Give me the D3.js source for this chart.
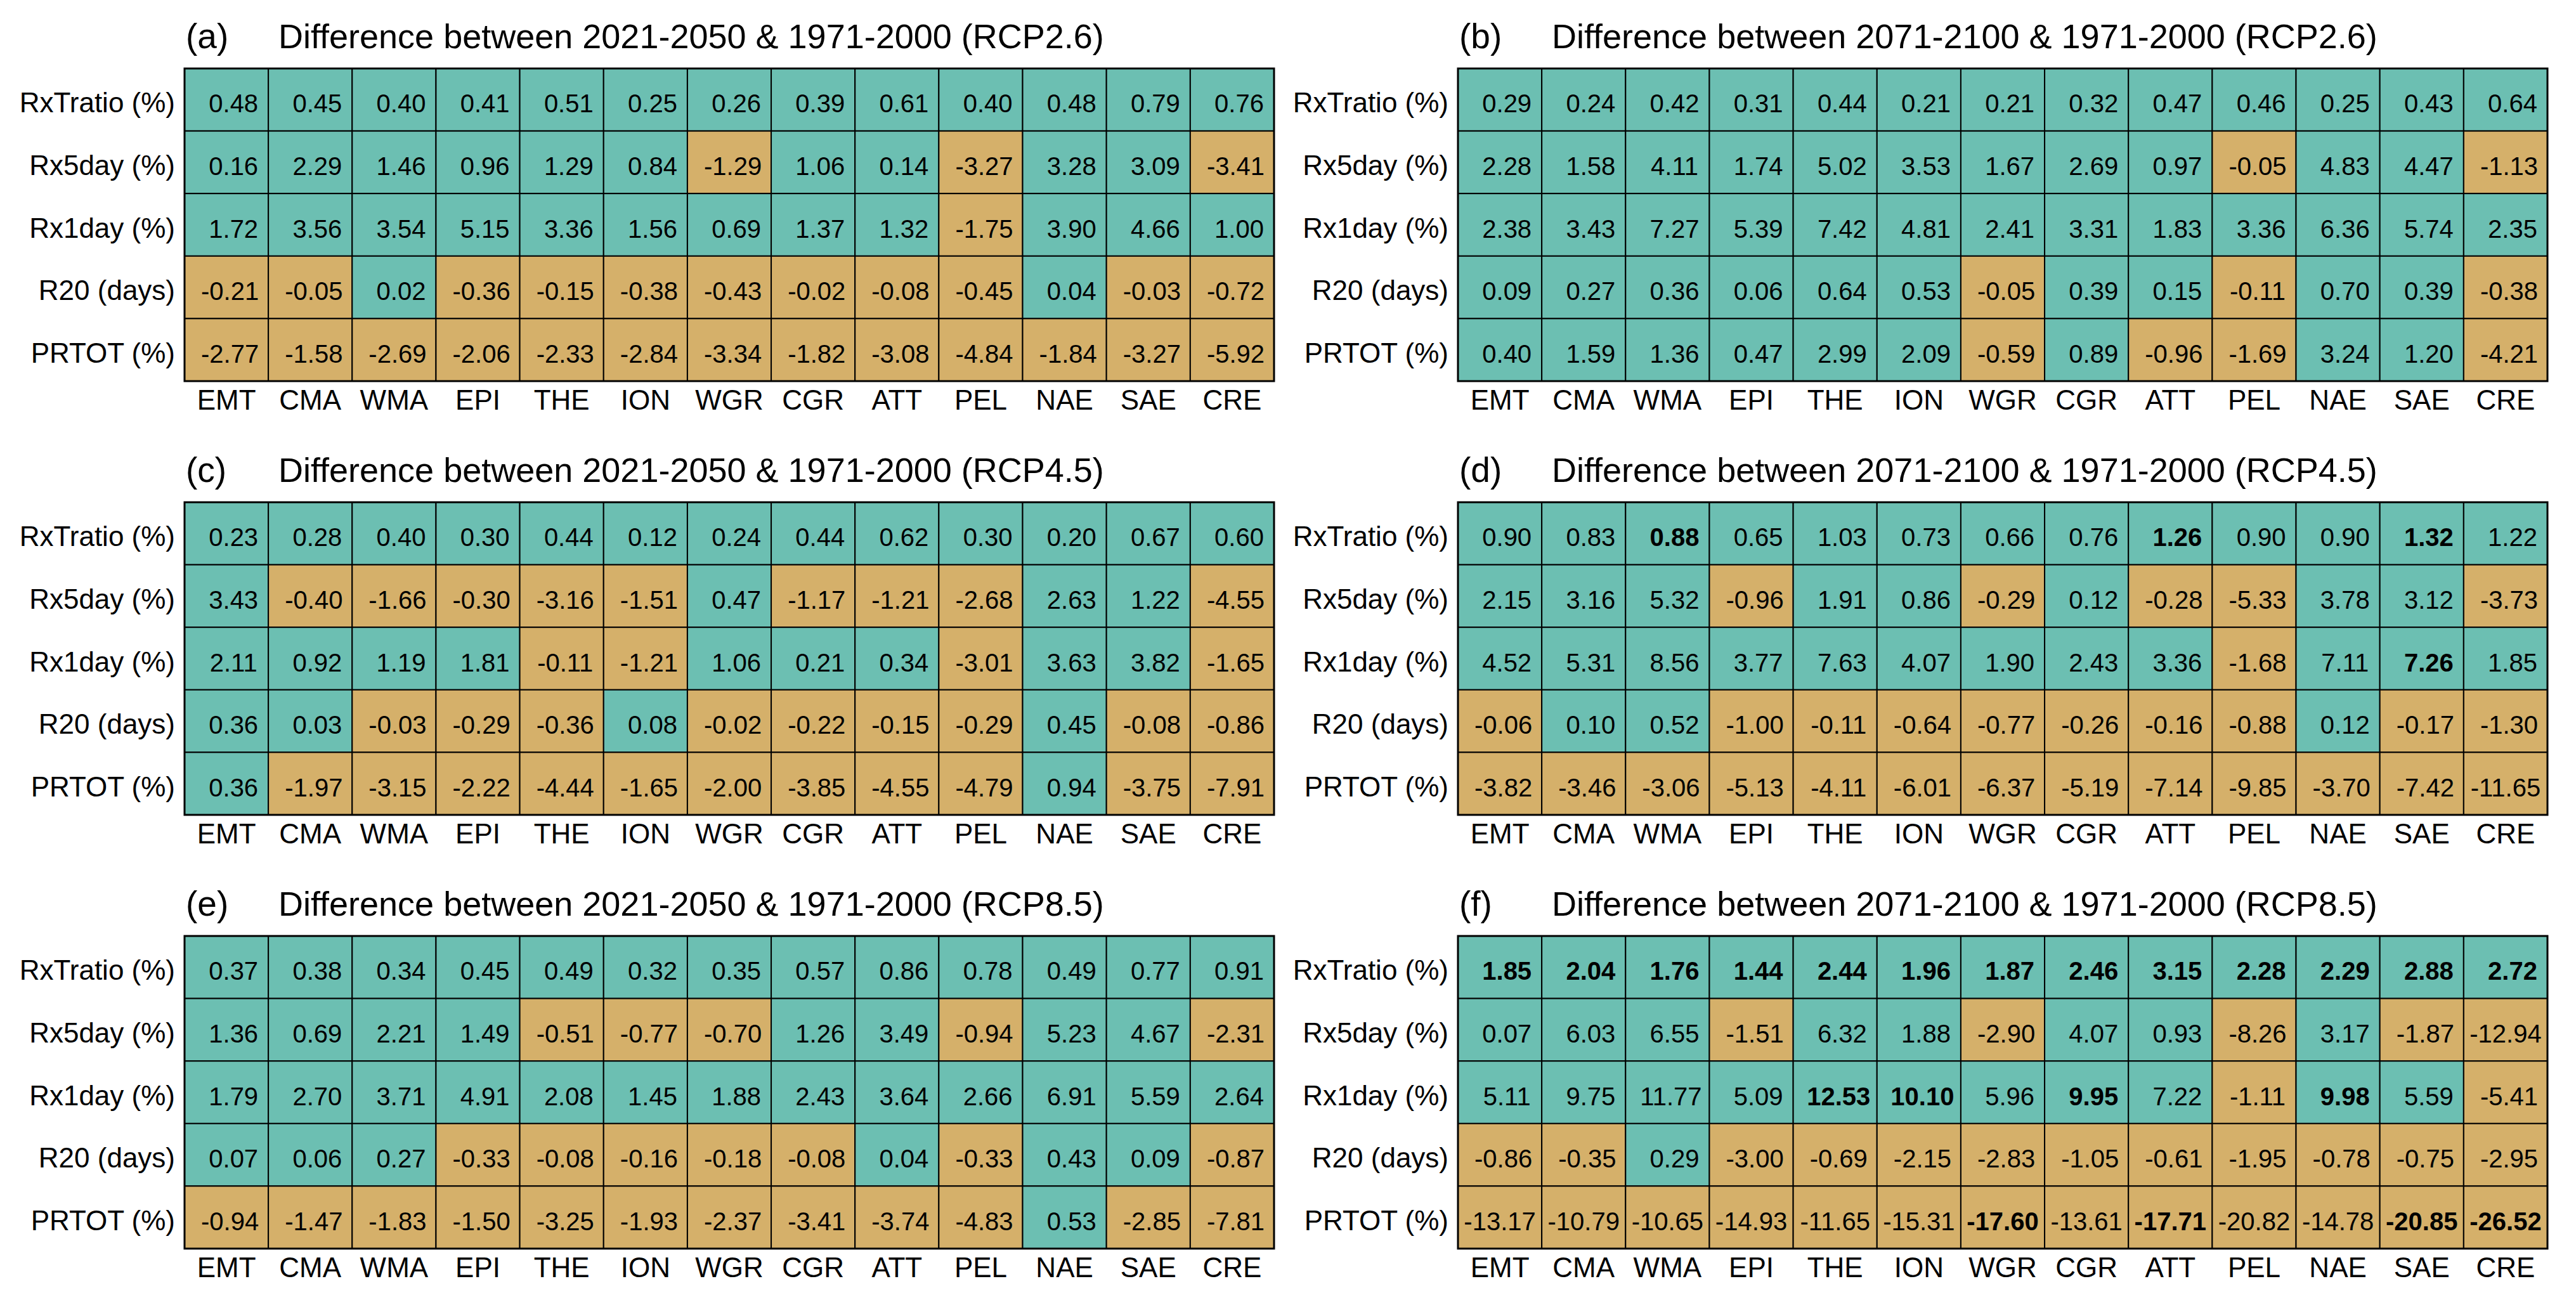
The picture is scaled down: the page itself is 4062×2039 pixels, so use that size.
<!DOCTYPE html>
<html>
<head>
<meta charset="utf-8">
<script src="https://cdn.jsdelivr.net/npm/d3@7"></script>
<style>
  html, body { margin: 0; padding: 0; background: #ffffff; }
  svg { display: block; font-family: "Liberation Sans", Arial, Helvetica, sans-serif; }
</style>
</head>
<body>
<div id="chart"></div>
<script>
// Regiony (kolumny) i wskaźniki (wiersze)
const regions = ["EMT", "CMA", "WMA", "EPI", "THE", "ION", "WGR", "CGR", "ATT", "PEL", "NAE", "SAE", "CRE"];
const indices = ["RxTratio (%)", "Rx5day (%)", "Rx1day (%)", "R20 (days)", "PRTOT (%)"];

const panelLetters = ["(a)", "(b)", "(c)", "(d)", "(e)", "(f)"];
const panelTitles = [
  "Difference between 2021-2050 & 1971-2000 (RCP2.6)",
  "Difference between 2071-2100 & 1971-2000 (RCP2.6)",
  "Difference between 2021-2050 & 1971-2000 (RCP4.5)",
  "Difference between 2071-2100 & 1971-2000 (RCP4.5)",
  "Difference between 2021-2050 & 1971-2000 (RCP8.5)",
  "Difference between 2071-2100 & 1971-2000 (RCP8.5)"
];

// Wartości: wiersze = wskaźniki, kolumny = regiony
const valuesA = [
  [0.48, 0.45, 0.40, 0.41, 0.51, 0.25, 0.26, 0.39, 0.61, 0.40, 0.48, 0.79, 0.76],
  [0.16, 2.29, 1.46, 0.96, 1.29, 0.84, -1.29, 1.06, 0.14, -3.27, 3.28, 3.09, -3.41],
  [1.72, 3.56, 3.54, 5.15, 3.36, 1.56, 0.69, 1.37, 1.32, -1.75, 3.90, 4.66, 1.00],
  [-0.21, -0.05, 0.02, -0.36, -0.15, -0.38, -0.43, -0.02, -0.08, -0.45, 0.04, -0.03, -0.72],
  [-2.77, -1.58, -2.69, -2.06, -2.33, -2.84, -3.34, -1.82, -3.08, -4.84, -1.84, -3.27, -5.92]
];
const valuesB = [
  [0.29, 0.24, 0.42, 0.31, 0.44, 0.21, 0.21, 0.32, 0.47, 0.46, 0.25, 0.43, 0.64],
  [2.28, 1.58, 4.11, 1.74, 5.02, 3.53, 1.67, 2.69, 0.97, -0.05, 4.83, 4.47, -1.13],
  [2.38, 3.43, 7.27, 5.39, 7.42, 4.81, 2.41, 3.31, 1.83, 3.36, 6.36, 5.74, 2.35],
  [0.09, 0.27, 0.36, 0.06, 0.64, 0.53, -0.05, 0.39, 0.15, -0.11, 0.70, 0.39, -0.38],
  [0.40, 1.59, 1.36, 0.47, 2.99, 2.09, -0.59, 0.89, -0.96, -1.69, 3.24, 1.20, -4.21]
];
const valuesC = [
  [0.23, 0.28, 0.40, 0.30, 0.44, 0.12, 0.24, 0.44, 0.62, 0.30, 0.20, 0.67, 0.60],
  [3.43, -0.40, -1.66, -0.30, -3.16, -1.51, 0.47, -1.17, -1.21, -2.68, 2.63, 1.22, -4.55],
  [2.11, 0.92, 1.19, 1.81, -0.11, -1.21, 1.06, 0.21, 0.34, -3.01, 3.63, 3.82, -1.65],
  [0.36, 0.03, -0.03, -0.29, -0.36, 0.08, -0.02, -0.22, -0.15, -0.29, 0.45, -0.08, -0.86],
  [0.36, -1.97, -3.15, -2.22, -4.44, -1.65, -2.00, -3.85, -4.55, -4.79, 0.94, -3.75, -7.91]
];
const valuesD = [
  [0.90, 0.83, 0.88, 0.65, 1.03, 0.73, 0.66, 0.76, 1.26, 0.90, 0.90, 1.32, 1.22],
  [2.15, 3.16, 5.32, -0.96, 1.91, 0.86, -0.29, 0.12, -0.28, -5.33, 3.78, 3.12, -3.73],
  [4.52, 5.31, 8.56, 3.77, 7.63, 4.07, 1.90, 2.43, 3.36, -1.68, 7.11, 7.26, 1.85],
  [-0.06, 0.10, 0.52, -1.00, -0.11, -0.64, -0.77, -0.26, -0.16, -0.88, 0.12, -0.17, -1.30],
  [-3.82, -3.46, -3.06, -5.13, -4.11, -6.01, -6.37, -5.19, -7.14, -9.85, -3.70, -7.42, -11.65]
];
const valuesE = [
  [0.37, 0.38, 0.34, 0.45, 0.49, 0.32, 0.35, 0.57, 0.86, 0.78, 0.49, 0.77, 0.91],
  [1.36, 0.69, 2.21, 1.49, -0.51, -0.77, -0.70, 1.26, 3.49, -0.94, 5.23, 4.67, -2.31],
  [1.79, 2.70, 3.71, 4.91, 2.08, 1.45, 1.88, 2.43, 3.64, 2.66, 6.91, 5.59, 2.64],
  [0.07, 0.06, 0.27, -0.33, -0.08, -0.16, -0.18, -0.08, 0.04, -0.33, 0.43, 0.09, -0.87],
  [-0.94, -1.47, -1.83, -1.50, -3.25, -1.93, -2.37, -3.41, -3.74, -4.83, 0.53, -2.85, -7.81]
];
const valuesF = [
  [1.85, 2.04, 1.76, 1.44, 2.44, 1.96, 1.87, 2.46, 3.15, 2.28, 2.29, 2.88, 2.72],
  [0.07, 6.03, 6.55, -1.51, 6.32, 1.88, -2.90, 4.07, 0.93, -8.26, 3.17, -1.87, -12.94],
  [5.11, 9.75, 11.77, 5.09, 12.53, 10.10, 5.96, 9.95, 7.22, -1.11, 9.98, 5.59, -5.41],
  [-0.86, -0.35, 0.29, -3.00, -0.69, -2.15, -2.83, -1.05, -0.61, -1.95, -0.78, -0.75, -2.95],
  [-13.17, -10.79, -10.65, -14.93, -11.65, -15.31, -17.60, -13.61, -17.71, -20.82, -14.78, -20.85, -26.52]
];

// Komórki wyróżnione pogrubieniem: [wiersz, kolumna]
const boldA = [];
const boldB = [];
const boldC = [];
const boldD = [[0, 2], [0, 8], [0, 11], [2, 11]];
const boldE = [];
const boldF = [
  [0, 0], [0, 1], [0, 2], [0, 3], [0, 4], [0, 5], [0, 6], [0, 7], [0, 8], [0, 9], [0, 10], [0, 11], [0, 12],
  [2, 4], [2, 5], [2, 7], [2, 10],
  [4, 6], [4, 8], [4, 11], [4, 12]
];

const panelValues = [valuesA, valuesB, valuesC, valuesD, valuesE, valuesF];
const panelBold = [boldA, boldB, boldC, boldD, boldE, boldF];

// Ustawienia
const W = 4062, H = 2039;
const colLeft = [291, 2299];
const gridW = 1718;
const rowTop = [108, 792, 1476];
const gridH = 493;
const posColor = "#6cbfb2";
const negColor = "#d5b06a";

const svg = d3.select("#chart")
  .append("svg")
  .attr("width", W)
  .attr("height", H);

panelValues.forEach((vals, p) => {
  const x0 = colLeft[p % 2];
  const y0 = rowTop[Math.floor(p / 2)];
  const boldSet = new Set(panelBold[p].map(d => d[0] + "-" + d[1]));

  const xScale = d3.scaleBand().domain(regions).range([0, gridW]);
  const yScale = d3.scaleBand().domain(indices).range([0, gridH]);

  const g = svg.append("g").attr("transform", `translate(${x0},${y0})`);

  // Tytuł
  g.append("text")
    .attr("x", 2)
    .attr("y", -32)
    .style("font-size", "55px")
    .text(panelLetters[p]);
  g.append("text")
    .attr("x", 148)
    .attr("y", -32)
    .style("font-size", "54px")
    .text(panelTitles[p]);

  // Komórki
  const cells = [];
  vals.forEach((row, i) => row.forEach((v, j) => cells.push({ i, j, v })));

  g.selectAll("rect.cell")
    .data(cells)
    .join("rect")
    .attr("class", "cell")
    .attr("x", d => xScale(regions[d.j]))
    .attr("y", d => yScale(indices[d.i]))
    .attr("width", xScale.bandwidth())
    .attr("height", yScale.bandwidth())
    .attr("fill", d => d.v >= 0 ? posColor : negColor)
    .attr("stroke", "#000")
    .attr("stroke-width", 2);

  // Wartości (wyrównane jak tekst formatowany %6.2f)
  const fs = 40;
  g.selectAll("text.val")
    .data(cells)
    .join("text")
    .attr("class", "val")
    .attr("x", d => {
      const s = d.v.toFixed(2);
      return xScale(regions[d.j]) + xScale.bandwidth() / 2 + (6 - s.length) * 0.139 * fs;
    })
    .attr("y", d => yScale(indices[d.i]) + yScale.bandwidth() / 2 + 20)
    .attr("text-anchor", "middle")
    .style("font-size", fs + "px")
    .style("font-weight", d => boldSet.has(d.i + "-" + d.j) ? "bold" : "normal")
    .text(d => d.v.toFixed(2));

  // Ramka
  g.append("rect")
    .attr("width", gridW)
    .attr("height", gridH)
    .attr("fill", "none")
    .attr("stroke", "#000")
    .attr("stroke-width", 3);

  // Etykiety wierszy
  g.selectAll("text.rowlab")
    .data(indices)
    .join("text")
    .attr("class", "rowlab")
    .attr("x", -15)
    .attr("y", d => yScale(d) + yScale.bandwidth() / 2 + 20)
    .attr("text-anchor", "end")
    .style("font-size", "44px")
    .text(d => d);

  // Etykiety kolumn
  g.selectAll("text.collab")
    .data(regions)
    .join("text")
    .attr("class", "collab")
    .attr("x", d => xScale(d) + xScale.bandwidth() / 2)
    .attr("y", gridH + 45)
    .attr("text-anchor", "middle")
    .style("font-size", "44px")
    .text(d => d);
});
</script>
</body>
</html>
